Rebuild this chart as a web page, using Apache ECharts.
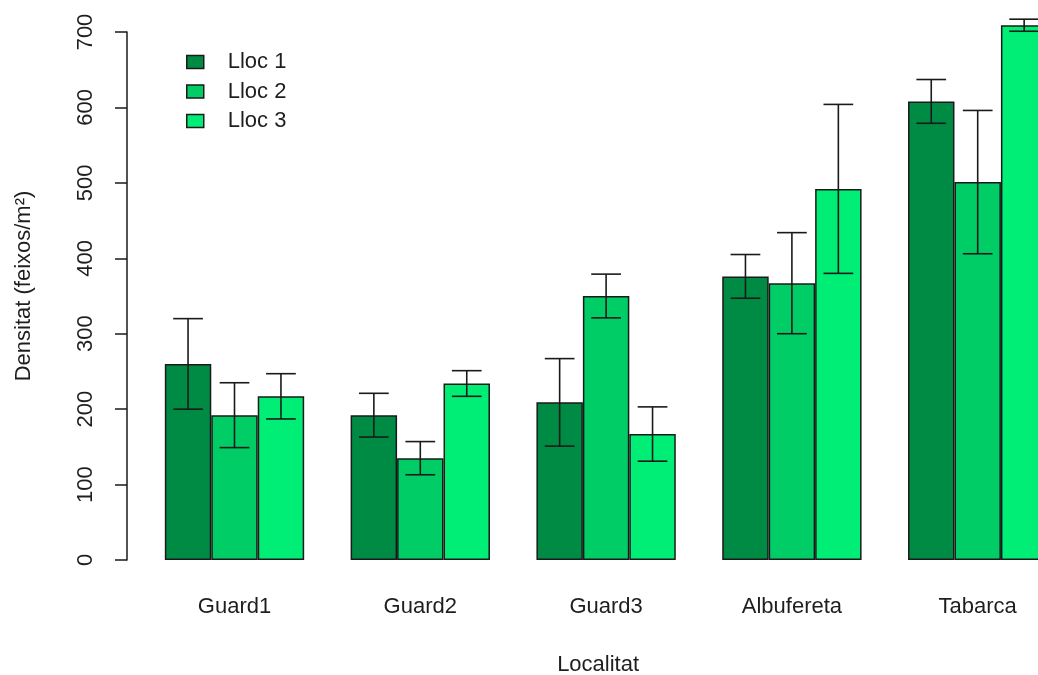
<!DOCTYPE html>
<html>
<head>
<meta charset="utf-8">
<script src="https://cdn.jsdelivr.net/npm/echarts@6/dist/echarts.min.js"></script>
<style>
html,body{margin:0;padding:0;background:#fff;}
#chart{width:1038px;height:675px;}
</style>
</head>
<body>
<div id="chart"></div>
<script>
const categories = ['Guard1', 'Guard2', 'Guard3', 'Albufereta', 'Tabarca'];
const seriesNames = ['Lloc 1', 'Lloc 2', 'Lloc 3'];
const lloc1 = [260, 192, 209, 376, 608];
const lloc1Err = [60, 29, 58, 29, 29];
const lloc2 = [192, 135, 350, 367, 501];
const lloc2Err = [43, 22, 29, 67, 95];
const lloc3 = [217, 234, 167, 492, 709];
const lloc3Err = [30, 17, 36, 112, 8];
const yTicks = [0, 100, 200, 300, 400, 500, 600, 700];

const values = [lloc1, lloc2, lloc3];
const errs = [lloc1Err, lloc2Err, lloc3Err];
const colors = ['#008B45', '#00CD66', '#00EE76'];
const FONT = 'Liberation Sans, Arial, sans-serif';
const TXT = '#1e1e1e';

const chart = echarts.init(document.getElementById('chart'), null, {renderer: 'canvas'});

const barSeries = values.map((vals, j) => ({
  name: seriesNames[j],
  type: 'bar',
  data: vals,
  barGap: '0%',
  barCategoryGap: '25%',
  clip: false,
  itemStyle: {color: colors[j], borderColor: '#1a1a1a', borderWidth: 1.5},
  emphasis: {disabled: true},
  z: 2
}));

const errSeries = values.map((vals, j) => ({
  type: 'custom',
  name: 'err' + j,
  clip: false,
  z: 5,
  encode: {x: 0, y: 1},
  data: vals.map((v, i) => [i, v, errs[j][i]]),
  renderItem: function (params, api) {
    const idx = api.value(0);
    const v = api.value(1);
    const e = api.value(2);
    const band = api.size([1, 0])[0];
    const bw = band * 0.25;
    const off = (j - 1) * bw;
    const top = api.coord([idx, v + e]);
    const bot = api.coord([idx, v - e]);
    const cx = top[0] + off;
    const hw = bw * 0.32;
    const style = {stroke: '#1a1a1a', lineWidth: 1.6, fill: null};
    return {
      type: 'group',
      children: [
        {type: 'line', shape: {x1: cx, y1: top[1], x2: cx, y2: bot[1]}, style: style},
        {type: 'line', shape: {x1: cx - hw, y1: top[1], x2: cx + hw, y2: top[1]}, style: style},
        {type: 'line', shape: {x1: cx - hw, y1: bot[1], x2: cx + hw, y2: bot[1]}, style: style}
      ]
    };
  }
}));

chart.setOption({
  backgroundColor: '#ffffff',
  animation: false,
  textStyle: {fontFamily: FONT},
  legend: {
    data: seriesNames,
    orient: 'vertical',
    left: 186,
    top: 51,
    padding: 0,
    itemWidth: 17,
    itemHeight: 13,
    itemGap: 7.5,
    icon: 'rect',
    itemStyle: {borderColor: '#1a1a1a', borderWidth: 1.5},
    textStyle: {fontSize: 22, color: TXT, fontFamily: FONT, lineHeight: 22, padding: [0, 0, 0, 19]}
  },
  grid: {left: 141.6, top: 32, width: 929, height: 528, containLabel: false, outerBoundsMode: 'none'},
  xAxis: {
    type: 'category',
    data: categories,
    axisLine: {show: false},
    axisTick: {show: false},
    axisLabel: {fontSize: 22, color: TXT, fontFamily: FONT, margin: 36},
    name: 'Localitat',
    nameLocation: 'middle',
    nameGap: 94,
    nameTextStyle: {fontSize: 22, color: TXT, fontFamily: FONT, padding: [0, 16, 0, 0]}
  },
  yAxis: {
    type: 'value',
    min: 0,
    max: 700,
    interval: 100,
    offset: 14.6,
    splitLine: {show: false},
    axisLine: {show: true, lineStyle: {color: '#1a1a1a', width: 1.5}},
    axisTick: {show: true, length: 12, lineStyle: {color: '#1a1a1a', width: 1.5}},
    axisLabel: {
      fontSize: 22, color: TXT, fontFamily: FONT, rotate: 90, margin: 30,
      formatter: function (v) { return yTicks.indexOf(v) >= 0 ? String(v) : ''; }
    },
    name: 'Densitat (feixos/m²)',
    nameLocation: 'middle',
    nameRotate: 90,
    nameGap: 92,
    nameTextStyle: {fontSize: 22, color: TXT, fontFamily: FONT, padding: [0, 0, 0, 20]}
  },
  series: barSeries.concat(errSeries)
});
</script>
</body>
</html>
